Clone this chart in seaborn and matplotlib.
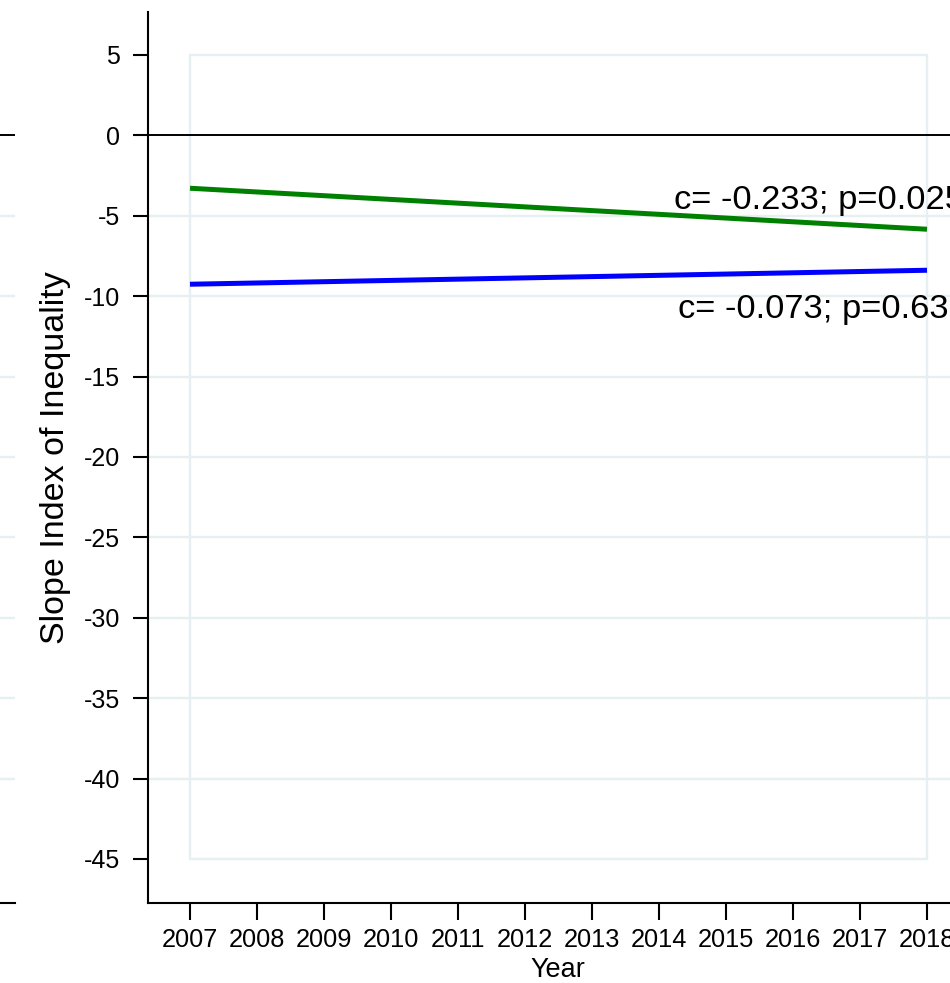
import numpy as np
import pandas as pd
import matplotlib
matplotlib.use("Agg")
import matplotlib.pyplot as plt
from matplotlib.patches import Rectangle
import seaborn as sns

# Fitted trend lines (start and end of the linear fit)
years = [2007, 2018]
trend_green = [-3.29, -5.84]
trend_blue = [-9.26, -8.39]
series_names = ["green", "blue"]
series_colors = {"green": "#008000", "blue": "#0000ff"}

labels = ["c= -0.233; p=0.025", "c= -0.073; p=0.632"]
label_x = [2014.22, 2014.29]
label_y = [-4.58, -11.35]

year_ticks = list(range(2007, 2019))
y_ticks = [5, 0, -5, -10, -15, -20, -25, -30, -35, -40, -45]
grid_vals = [-5, -10, -15, -20, -25, -30, -35, -40]

df = pd.DataFrame({
    "Year": years * 2,
    "SII": trend_green + trend_blue,
    "series": [series_names[0]] * 2 + [series_names[1]] * 2,
})

sns.set_theme(style="white")
plt.rcParams["font.family"] = ["Liberation Sans", "DejaVu Sans"]
plt.rcParams["text.color"] = "black"
plt.rcParams["axes.labelcolor"] = "black"
plt.rcParams["xtick.color"] = "black"
plt.rcParams["ytick.color"] = "black"

W, H = 950, 983
fig = plt.figure(figsize=(W / 100, H / 100), dpi=100)
fig.patch.set_facecolor("white")

grid_color = "#e6eff1"
ylim = (-47.74, 7.67)

# neighbouring panel, only its right edge is inside the figure
ax_l = fig.add_axes([-0.2, 80 / H, (190 + 15) / W, 891 / H])
ax_l.set_xlim(0, 1)
ax_l.set_ylim(*ylim)
for g in grid_vals:
    ax_l.axhline(g, color=grid_color, lw=1.7, zorder=1)
ax_l.axhline(0, color="black", lw=1.4, zorder=2)
for s in ["left", "right", "top"]:
    ax_l.spines[s].set_visible(False)
ax_l.spines["bottom"].set_color("black")
ax_l.spines["bottom"].set_linewidth(1.5)
ax_l.set_xticks([])
ax_l.set_yticks([])
ax_l.set_facecolor("white")

# main panel
ax = fig.add_axes([148 / W, 80 / H, (967 - 148) / W, 891 / H])
ax.set_facecolor("white")
ax.set_xlim(2006.373, 2018.597)
ax.set_ylim(*ylim)

for g in grid_vals:
    ax.axhline(g, color=grid_color, lw=1.7, zorder=1)
ax.add_patch(Rectangle((years[0], y_ticks[-1]), years[-1] - years[0],
                       y_ticks[0] - y_ticks[-1], fill=False,
                       ec=grid_color, lw=1.7, zorder=1))
ax.axhline(0, color="black", lw=1.4, zorder=2)

sns.lineplot(data=df, x="Year", y="SII", hue="series", palette=series_colors,
             lw=3.6, legend=False, ax=ax, zorder=3)
for line in ax.get_lines():
    line.set_solid_capstyle("butt")

for txt, tx, ty in zip(labels, label_x, label_y):
    ax.text(tx, ty, txt, fontsize=24.8, color="black", ha="left", va="baseline",
            clip_on=False, zorder=4)

ax.set_xticks(year_ticks)
ax.set_xticklabels([str(y) for y in year_ticks])
ax.set_yticks(y_ticks)
ax.set_yticklabels([str(v) for v in y_ticks])
ax.tick_params(axis="x", length=12, width=1.5, colors="black", labelsize=18.3,
               pad=6, direction="out", bottom=True)
ax.tick_params(axis="y", length=11, width=1.5, colors="black", labelsize=18,
               pad=9, direction="out", left=True)

for s in ["right", "top"]:
    ax.spines[s].set_visible(False)
for s in ["left", "bottom"]:
    ax.spines[s].set_color("black")
    ax.spines[s].set_linewidth(1.5)

ax.set_xlabel("Year", fontsize=19.5, labelpad=3.5, color="black")
ax.set_ylabel("Slope Index of Inequality", fontsize=24.5, labelpad=9,
              color="black")

fig.savefig("out.png", dpi=100, facecolor="white")
